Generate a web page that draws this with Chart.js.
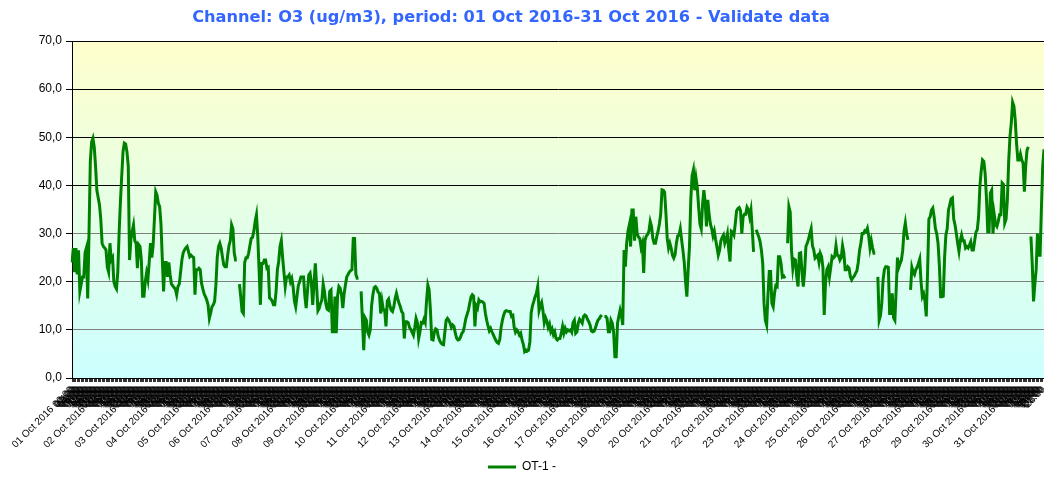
<!DOCTYPE html>
<html>
<head>
<meta charset="utf-8">
<script src="https://cdn.jsdelivr.net/npm/chart.js@4.4.0/dist/chart.umd.min.js"></script>
<style>
  html, body { margin: 0; padding: 0; background: #fff; }
  #wrap { width: 1044px; height: 477px; }
</style>
</head>
<body>
<div id="wrap"><canvas id="chart" width="1044" height="477"></canvas></div>
<script>
/* ============================================================
   O3 hourly values, October 2016 (ug/m3)
   one row per day, 24 hourly readings, null = missing hour
   ============================================================ */
const TITLE = "Channel: O3 (ug/m3), period: 01 Oct 2016-31 Oct 2016 - Validate data";
const SERIES_NAME = "OT-1 -";

const DAYS = [
  "01 Oct 2016","02 Oct 2016","03 Oct 2016","04 Oct 2016","05 Oct 2016","06 Oct 2016","07 Oct 2016",
  "08 Oct 2016","09 Oct 2016","10 Oct 2016","11 Oct 2016","12 Oct 2016","13 Oct 2016","14 Oct 2016",
  "15 Oct 2016","16 Oct 2016","17 Oct 2016","18 Oct 2016","19 Oct 2016","20 Oct 2016","21 Oct 2016",
  "22 Oct 2016","23 Oct 2016","24 Oct 2016","25 Oct 2016","26 Oct 2016","27 Oct 2016","28 Oct 2016",
  "29 Oct 2016","30 Oct 2016","31 Oct 2016"
];
const HOURS = [
  "00:00","01:00","02:00","03:00","04:00","05:00","06:00","07:00","08:00","09:00","10:00","11:00",
  "12:00","13:00","14:00","15:00","16:00","17:00","18:00","19:00","20:00","21:00","22:00","23:00"
];

const O3_HOURLY = [
  /* 01 */ [24,27,22,27,21.5,26.5,18,19.5,21,21,26,27,16.5,30,45,49,49.8,48,44,39,37.5,36,33,28],
  /* 02 */ [27.3,27,26.6,23,22,28,24.5,25,20,19,18.5,22,30,36.5,41.9,47,48.8,48.6,47,44,24.5,28.7,30.5,31.8],
  /* 03 */ [28.5,28,22.8,27.7,27.3,24.5,17,17,20,21.8,20.4,24,28,25,27.5,33,38.7,38,36.3,35.6,32,25,18,24],
  /* 04 */ [24,21,24,21.5,19.5,19.2,18.8,18.5,17.3,19,19.5,22,24.5,26,26.6,27,27.3,26.3,25.2,25.5,25.2,25,17.3,22.5],
  /* 05 */ [22.5,22.8,22.5,19.7,18.5,17.5,16.9,16.2,15.2,12.4,13.5,14.8,15.2,15.9,19.3,25,27.3,28,27,25.2,23.5,23.1,23.1,25.5],
  /* 06 */ [27.5,28.5,31.8,31,26,24.5,24.5,null,19.5,16.9,13.8,13.4,24,25,25,25.9,27.5,29,29.2,30.5,32.5,33.9,29.4,22.5],
  /* 07 */ [15.2,23.8,23.8,24.5,24.5,22.8,23,16.6,16.4,16,15.2,15.2,18,22.5,24.2,27.3,28.5,25,22,19,21,21,21.4,20],
  /* 08 */ [20.7,19,16,14.8,17,19.2,20,21,21,21,17,14.5,18,21.4,21.8,19.7,15.2,19.7,23.8,19,14,14.5,15.5,16.2],
  /* 09 */ [19.5,18,15.5,14.3,14.1,18,18.3,9.6,9.6,16.9,9.3,17,19,18.6,17.3,14.5,17.5,19.3,21,21.5,22,22.3,22.5,29],
  /* 10 */ [29,21.5,20.7,20.7,null,18,12.1,5.8,12.5,12,9.6,8.9,10,15,17.3,18.8,19,18.6,17.8,17.6,13.4,15.9,14.1,14.1],
  /* 11 */ [10.7,16,16.4,15,14.1,13.8,14.8,16.5,17.6,16.5,15.5,14.8,13.8,13.4,8.2,11.7,11.7,11.5,10.5,10.1,9.5,8.9,10.5,12.4],
  /* 12 */ [11.5,8.2,9.6,11.5,11.4,12.2,11.5,16,19.3,18.3,14,8,7.9,9.5,10.2,10,8.6,7.8,7.3,7,6.9,9.5,12,12.4],
  /* 13 */ [12,11.4,10.5,11,10.7,9.3,8.3,7.9,8,8.5,9.3,9.6,10.8,12.3,13.2,14.1,15.5,16.8,17.3,17,10.7,15,14.5,16.2],
  /* 14 */ [15.8,15.9,15.8,15.5,13.4,12,10.8,9.8,10.3,9.6,9,8.4,7.8,7.4,7.2,8,10.5,12,13.1,13.8,14,13.9,13.8,13.8],
  /* 15 */ [12.8,13,10.5,9.5,10,9.6,8.9,9.3,7.9,7,5.5,5.8,5.6,5.8,7.5,13.5,15,15.9,16.9,17.6,19,14,15,15.7],
  /* 16 */ [14,11.5,12.5,11.8,10.5,11.2,9.6,10.2,9,9.6,8.2,7.9,8.2,8.2,9.3,10.7,9.3,10.3,9.6,10,9.8,10,9.5,11.5],
  /* 17 */ [12,9.3,9.6,11.4,12.2,11.8,11.4,12.8,13.1,12.9,12.2,11.7,11,9.8,9.6,9.7,10.3,11.2,12,12.3,12.8,13.1,null,12.8],
  /* 18 */ [12.8,12.4,9.6,9.6,12,11.4,9.6,4.4,4.4,11.4,12.8,14.1,13,11,26.6,23.1,28,30.5,31.8,27.3,34.9,34.9,28.5,33.5],
  /* 19 */ [30,29.3,29,27.1,28,21.8,28.6,29.5,29.8,30.5,32.5,31.5,29,28,28,29.4,30.5,32,34,39.1,39,38.6,34.2,29],
  /* 20 */ [27,28,27,25.5,24.9,25.6,28,29.5,29.7,31,28.7,26.5,24,20,16.9,22.5,27.3,37,42,43.2,39,41.5,39.5,35.5],
  /* 21 */ [32,31,36,39,36.5,31.5,37,34,32,31,29.5,30.5,28.7,27.2,25.5,26.5,28.5,29.2,29.7,28,28.8,30,26.6,24.2],
  /* 22 */ [30.5,30.3,29.7,32,34.7,35.2,35.4,34.8,30,33.5,34,34,35.5,35,33.5,34.9,30.8,26.2,null,30.8,30,29.3,28.3,26.5],
  /* 23 */ [23.8,15.5,12,11,17.3,22.1,22.1,15.5,14.8,17.6,19.2,19,25.2,25.2,23.8,21,21.2,20.7,null,28,35.6,34.5,26.5,22.8],
  /* 24 */ [24.7,24.5,21,19,25.9,26,22,19,22,27.3,28,28.8,30,31,27.5,26.6,24.9,25.2,25.5,24,25.9,25.2,23,13.1],
  /* 25 */ [19.7,22.5,23.1,21,23,25.2,24.9,25.2,27.5,25.5,25.4,24.5,25,27.5,26,22.5,22.5,23.1,22.8,21,20.4,20.9,21.2,21.8],
  /* 26 */ [22.3,24,26.5,28,30,30,30.6,30.4,31.1,29.5,27,28.5,27,25.9,25.9,null,21,12,13,15.5,20.4,22.5,23.1,23.1],
  /* 27 */ [23,13.4,13.4,17.6,12.5,12,18.3,25,23,23.8,24.5,26.5,30.5,32.2,30,28.7,null,18.3,23,22,21.5,22.5,23,23.8],
  /* 28 */ [24.7,20,16.9,17.5,16,12.8,22,33,33.5,34.9,35.3,33.5,31,30,28,23.5,16.9,16.9,17,25,29.7,31,34.9,36],
  /* 29 */ [37.2,37.4,33,31.8,30,28,26.3,28.5,29.7,28.5,28.5,27,27.3,27,27.6,28.3,26.6,26.6,28.5,30.3,30.8,33.5,39.8,43],
  /* 30 */ [45.3,45,42.5,37.5,30.4,30.4,38.4,39,30,33.9,32,31.5,32.5,33.9,33.9,40.5,40.2,32.2,33,37,45,50.2,53,57.3],
  /* 31 */ [56.5,53.6,48.8,45.3,45.3,46.5,45.3,44.6,38.7,44,47.3,48,null,29.4,23.8,15.9,19.5,22.5,30,25.5,25.5,35,44,47.5]
];

const Y_MIN = 0, Y_MAX = 70, Y_STEP = 10;

/* ---------- build labels / values ---------- */
const labels = [];
const values = [];
DAYS.forEach((day, d) => {
  HOURS.forEach((hr, h) => {
    labels.push(h === 0 ? day + " " + hr : hr);
    values.push(O3_HOURLY[d][h]);
  });
});

/* plot background: yellow at top fading to cyan at bottom */
const bgPlugin = {
  id: "plotBg",
  beforeDraw(chart) {
    const a = chart.chartArea, ctx = chart.ctx;
    const g = ctx.createLinearGradient(0, a.top, 0, a.bottom);
    g.addColorStop(0, "#ffffcc");
    g.addColorStop(1, "#ccffff");
    ctx.save();
    ctx.fillStyle = g;
    ctx.fillRect(a.left, a.top, a.right - a.left, a.bottom - a.top);
    ctx.restore();
  }
};

/* title is a touch left of the canvas centre in the original */
const titlePlugin = {
  id: "sheetTitle",
  afterDraw(chart) {
    const ctx = chart.ctx;
    ctx.save();
    ctx.font = "bold 16.2px 'DejaVu Sans'";
    ctx.fillStyle = "#3366ff";
    ctx.textAlign = "center";
    ctx.textBaseline = "middle";
    ctx.fillText(TITLE, 511, 18);
    ctx.restore();
  }
};

new Chart(document.getElementById("chart"), {
  type: "line",
  data: {
    labels: labels,
    datasets: [{
      label: SERIES_NAME,
      data: values,
      borderColor: "#008000",
      backgroundColor: "#008000",
      borderWidth: 3,
      pointRadius: 0,
      tension: 0,
      spanGaps: false,
      fill: false
    }]
  },
  options: {
    responsive: false,
    animation: false,
    devicePixelRatio: 1,
    layout: { padding: { top: 41, left: 0, right: 0, bottom: -6 } },
    plugins: {
      title: { display: false },
      legend: {
        position: "bottom",
        labels: {
          usePointStyle: true, pointStyle: "line", pointStyleWidth: 28, boxHeight: 12,
          color: "#000", font: { family: "Liberation Sans", size: 12 }, padding: 4
        }
      },
      tooltip: { enabled: false }
    },
    scales: {
      x: {
        ticks: {
          autoSkip: false, maxRotation: 45, minRotation: 45, padding: 2,
          color: "#000", font: { family: "Liberation Sans", size: 10 }
        },
        grid: { drawOnChartArea: false, tickLength: 4, color: "#333" },
        border: { color: "#000", width: 1 },
        afterFit(s) { s.height = 79; s.paddingLeft = 0; s.paddingRight = 0; }
      },
      y: {
        min: Y_MIN, max: Y_MAX,
        ticks: {
          stepSize: Y_STEP, padding: 4, color: "#000",
          font: { family: "Liberation Sans", size: 12 },
          callback: v => v.toFixed(1).replace(".", ",")
        },
        grid: {
          tickLength: 6, tickColor: "#000",
          color: c => (c.tick && c.tick.value >= 40) ? "#000" : "#7f7f7f"
        },
        border: { color: "#000", width: 1 },
        afterFit(s) { s.width = 72; s.paddingTop = 0; s.paddingBottom = 0; }
      }
    }
  },
  plugins: [bgPlugin, titlePlugin]
});
</script>
</body>
</html>
